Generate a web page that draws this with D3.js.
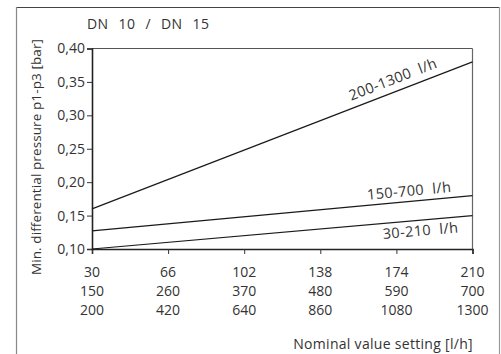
<!DOCTYPE html>
<html>
<head>
<meta charset="utf-8">
<script src="https://cdn.jsdelivr.net/npm/d3@7"></script>
<style>
body { margin: 0; background: #fff; }
text { font-family: "Open Sans", sans-serif; fill: #333; }
</style>
</head>
<body>
<div id="chart"></div>
<script>
// data
const settingA = [30, 66, 102, 138, 174, 210];
const settingB = [150, 260, 370, 480, 590, 700];
const settingC = [200, 420, 640, 860, 1080, 1300];
const yTicks = [0.10, 0.15, 0.20, 0.25, 0.30, 0.35, 0.40];
const lineNames = ["200-1300  l/h", "150-700  l/h", "30-210  l/h"];
const lineStart = [0.16, 0.127, 0.10];
const lineEnd = [0.38, 0.18, 0.15];
const labelAt = [174.5, 180.5, 185];   // x position of each label (first scale)
const labelOff = [-13, -11, 10];       // offset from the line

const outerWidth = 501;
const outerHeight = 354;
const margin = { top: 48.5, right: 28.5, bottom: 105, left: 92 };
const width = outerWidth - margin.left - margin.right;
const height = outerHeight - margin.top - margin.bottom;

const svg = d3.select("#chart").append("svg")
	.attr("width", outerWidth)
	.attr("height", outerHeight);

// outer frame
svg.append("line").attr("x1", 16).attr("x2", 499.5).attr("y1", 7.5).attr("y2", 7.5)
	.attr("stroke", "#444").attr("stroke-width", 1);
svg.append("line").attr("x1", 16.5).attr("x2", 16.5).attr("y1", 7).attr("y2", outerHeight)
	.attr("stroke", "#888").attr("stroke-width", 1.2);
svg.append("line").attr("x1", 499.5).attr("x2", 499.5).attr("y1", 7).attr("y2", outerHeight)
	.attr("stroke", "#999").attr("stroke-width", 1.2);

svg.append("text")
	.attr("x", 87).attr("y", 23)
	.attr("dominant-baseline", "central")
	.style("font-size", "14px")
	.style("letter-spacing", "0.4px")
	.style("word-spacing", "6px")
	.text("DN 10 / DN 15");

const g = svg.append("g")
	.attr("transform", `translate(${margin.left}, ${margin.top})`);

const x = d3.scaleLinear().domain([30, 210]).range([0, width]);
const y = d3.scaleLinear().domain([0.10, 0.40]).range([height, 0]);

// plot box top and right
g.append("line").attr("x1", 0).attr("x2", width).attr("y1", 0).attr("y2", 0)
	.attr("stroke", "#555").attr("stroke-width", 1);
g.append("line").attr("x1", width).attr("x2", width).attr("y1", 0).attr("y2", height)
	.attr("stroke", "#666").attr("stroke-width", 1.2);

// y axis
const yAxis = g.append("g")
	.call(d3.axisLeft(y).tickValues(yTicks).tickSize(5).tickPadding(2)
		.tickFormat(d => d3.format(".2f")(d).replace(".", ",")));
yAxis.select(".domain").attr("stroke", "#222").attr("stroke-width", 1.6);
yAxis.selectAll(".tick line").attr("stroke", "#333");
yAxis.selectAll("text").style("font-size", "14px").attr("fill", "#333");

// x axis with three label rows
const xAxis = g.append("g")
	.attr("transform", `translate(0, ${height})`)
	.call(d3.axisBottom(x).tickValues(settingA).tickSize(5).tickFormat(""));
xAxis.select(".domain").attr("stroke", "#222").attr("stroke-width", 1.6);
xAxis.selectAll(".tick line").attr("stroke", "#333");

[settingA, settingB, settingC].forEach((row, r) => {
	g.selectAll(".row" + r)
		.data(row)
		.enter()
		.append("text")
		.attr("x", (d, i) => x(settingA[i]))
		.attr("y", height + 22 + r * 19)
		.attr("text-anchor", "middle")
		.attr("dominant-baseline", "central")
		.style("font-size", "14px")
		.text(d => d);
});

// lines
lineNames.forEach((name, i) => {
	g.append("line")
		.attr("x1", x(30)).attr("y1", y(lineStart[i]))
		.attr("x2", x(210)).attr("y2", y(lineEnd[i]))
		.attr("stroke", "#1a1a1a").attr("stroke-width", 1.2);

	const dx = x(210) - x(30);
	const dy = y(lineEnd[i]) - y(lineStart[i]);
	const ang = Math.atan2(dy, dx) * 180 / Math.PI;
	const t = (labelAt[i] - 30) / 180;
	const lx = x(labelAt[i]);
	const ly = y(lineStart[i]) + t * dy;
	g.append("text")
		.attr("transform", `translate(${lx}, ${ly}) rotate(${ang}) translate(0, ${labelOff[i]})`)
		.attr("text-anchor", "middle")
		.attr("dominant-baseline", "central")
		.style("font-size", "14.5px")
		.style("letter-spacing", "0.4px")
		.style("white-space", "pre")
		.text(name);
});

// axis titles
svg.append("text")
	.attr("transform", "translate(36, 157) rotate(-90)")
	.attr("text-anchor", "middle")
	.attr("dominant-baseline", "central")
	.style("font-size", "13.5px")
	.style("letter-spacing", "0.1px")
	.text("Min. differential pressure p1-p3 [bar]");

svg.append("text")
	.attr("x", 473).attr("y", 343)
	.attr("text-anchor", "end")
	.attr("dominant-baseline", "central")
	.style("font-size", "14px")
	.style("letter-spacing", "0.3px")
	.text("Nominal value setting [l/h]");
</script>
</body>
</html>
